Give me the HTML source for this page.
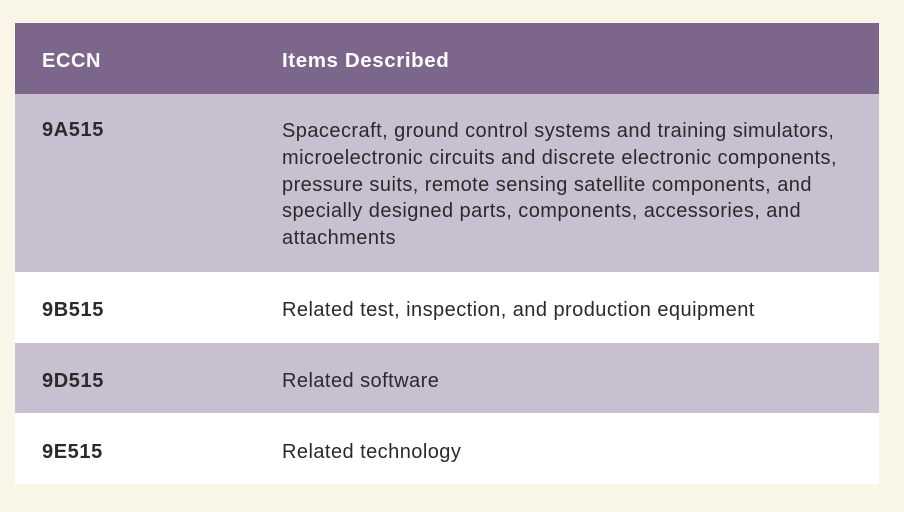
<!DOCTYPE html>
<html><head><meta charset="utf-8"><style>
html,body{margin:0;padding:0;}
body{width:904px;height:512px;background:#f9f6e7;position:relative;overflow:hidden;font-family:"Liberation Sans",sans-serif;color:#2a2a2a;}
.t{position:absolute;left:15px;top:23px;width:864px;}
.r{position:absolute;left:0;width:864px;}
.c1{position:absolute;left:27px;font-weight:bold;font-size:20px;letter-spacing:0.6px;}
.c2{position:absolute;left:267px;font-size:20px;line-height:26.8px;letter-spacing:0.45px;white-space:nowrap;}
.h{background:#7d668c;color:#fff;}
.l{background:#c8bfd1;}
.w{background:#fff;}
</style></head><body>
<div class="t">
 <div class="r h" style="top:0;height:71px">
  <div class="c1" style="top:27px">ECCN</div>
  <div class="c2" style="top:25px;font-weight:bold;font-size:20.5px;letter-spacing:0.6px">Items Described</div>
 </div>
 <div class="r l" style="top:71px;height:178px">
  <div class="c1" style="top:25px">9A515</div>
  <div class="c2" style="top:24px">Spacecraft, ground control systems and training simulators,<br>microelectronic circuits and discrete electronic components,<br>pressure suits, remote sensing satellite components, and<br>specially designed parts, components, accessories, and<br>attachments</div>
 </div>
 <div class="r w" style="top:249px;height:71px">
  <div class="c1" style="top:27px">9B515</div>
  <div class="c2" style="top:25px">Related test, inspection, and production equipment</div>
 </div>
 <div class="r l" style="top:320px;height:70px">
  <div class="c1" style="top:27px">9D515</div>
  <div class="c2" style="top:25px">Related software</div>
 </div>
 <div class="r w" style="top:390px;height:71px">
  <div class="c1" style="top:28px">9E515</div>
  <div class="c2" style="top:26px">Related technology</div>
 </div>
</div>
</body></html>
